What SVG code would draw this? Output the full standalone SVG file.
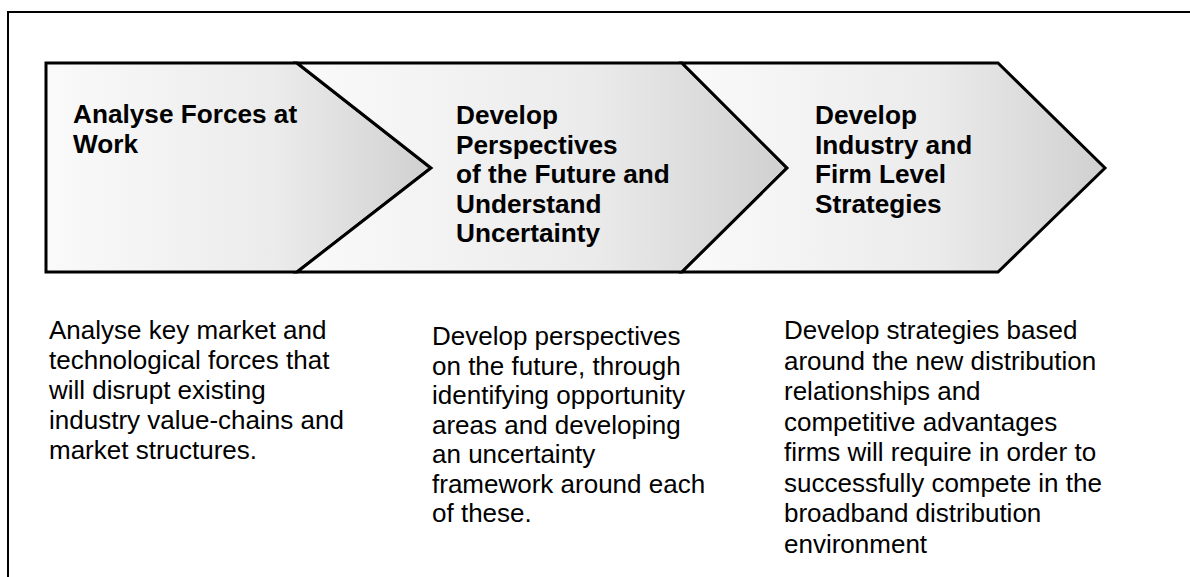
<svg xmlns="http://www.w3.org/2000/svg" width="1190" height="577" viewBox="0 0 1190 577">
  <defs>
    <linearGradient id="chevFill" x1="0" y1="0" x2="1" y2="0">
      <stop offset="0" stop-color="#fafafa"/>
      <stop offset="0.6" stop-color="#ebebeb"/>
      <stop offset="1" stop-color="#d0d0d0"/>
    </linearGradient>
  </defs>
  <style>
    .frame { fill: none; stroke: #000; stroke-width: 2; }
    .chev { fill: url(#chevFill); stroke: #000; stroke-width: 3; stroke-linejoin: miter; }
    .head { font-family: "Liberation Sans", Arial, sans-serif; font-size: 26.2px; font-weight: bold; fill: #000; }
    .body { font-family: "Liberation Sans", Arial, sans-serif; font-size: 26px; fill: #000; }
  </style>

  <rect width="1190" height="577" fill="#fff"/>
  <!-- open frame: top and left edges only -->
  <path class="frame" d="M8,580 V12 H1192"/>

  <g id="step-analyse">
    <polygon class="chev" points="46,63 297,63 431,168 297,272 46,272"/>
    <text class="head" x="73" y="123">Analyse Forces at</text>
    <text class="head" x="73" y="153">Work</text>
  </g>

  <g id="step-perspectives">
    <polygon class="chev" points="297,63 682,63 787,168 682,272 297,272 431,168"/>
    <text class="head" x="456" y="124">Develop</text>
    <text class="head" x="456" y="153.5">Perspectives</text>
    <text class="head" x="456" y="183">of the Future and</text>
    <text class="head" x="456" y="212.5">Understand</text>
    <text class="head" x="456" y="242">Uncertainty</text>
  </g>

  <g id="step-strategies">
    <polygon class="chev" points="682,63 998,63 1105,168 998,272 682,272 787,168"/>
    <text class="head" x="815" y="124">Develop</text>
    <text class="head" x="815" y="153.5">Industry and</text>
    <text class="head" x="815" y="183">Firm Level</text>
    <text class="head" x="815" y="212.5">Strategies</text>
  </g>

  <g id="desc-analyse">
    <text class="body" x="49" y="339">Analyse key market and</text>
    <text class="body" x="49" y="369">technological forces that</text>
    <text class="body" x="49" y="399">will disrupt existing</text>
    <text class="body" x="49" y="429">industry value-chains and</text>
    <text class="body" x="49" y="459">market structures.</text>
  </g>

  <g id="desc-perspectives">
    <text class="body" x="432" y="345">Develop perspectives</text>
    <text class="body" x="432" y="374.5">on the future, through</text>
    <text class="body" x="432" y="404">identifying opportunity</text>
    <text class="body" x="432" y="433.5">areas and developing</text>
    <text class="body" x="432" y="463">an uncertainty</text>
    <text class="body" x="432" y="492.5">framework around each</text>
    <text class="body" x="432" y="522">of these.</text>
  </g>

  <g id="desc-strategies">
    <text class="body" x="784" y="339">Develop strategies based</text>
    <text class="body" x="784" y="369.5">around the new distribution</text>
    <text class="body" x="784" y="400">relationships and</text>
    <text class="body" x="784" y="430.5">competitive advantages</text>
    <text class="body" x="784" y="461">firms will require in order to</text>
    <text class="body" x="784" y="491.5">successfully compete in the</text>
    <text class="body" x="784" y="522">broadband distribution</text>
    <text class="body" x="784" y="552.5">environment</text>
  </g>

  <!-- no connectors: the steps abut directly -->
  <g id="connectors"/>
</svg>
